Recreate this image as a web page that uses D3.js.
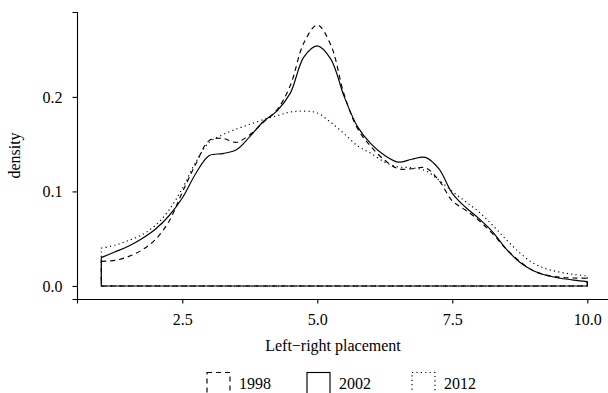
<!DOCTYPE html>
<html>
<head>
<meta charset="utf-8">
<script src="https://cdn.jsdelivr.net/npm/d3@7"></script>
<style>
  html, body { margin: 0; padding: 0; background: #fff; }
  svg { display: block; font-family: "Liberation Serif", "Times New Roman", serif; }
</style>
</head>
<body>
<svg id="chart" width="608" height="393"></svg>
<script>
// Evaluation grid for the density estimates (left–right placement scale)
const placement = [1.00, 1.25, 1.50, 1.75, 2.00, 2.25, 2.50, 2.75, 3.00, 3.25, 3.50, 3.75,
                   4.00, 4.25, 4.50, 4.75, 5.00, 5.25, 5.50, 5.75, 6.00, 6.25, 6.50, 6.75,
                   7.00, 7.25, 7.50, 7.75, 8.00, 8.25, 8.50, 8.75, 9.00, 9.25, 9.50, 9.75, 10.00];

const density1998 = [0.026, 0.027, 0.031, 0.038, 0.049, 0.068, 0.099, 0.129, 0.154, 0.156, 0.152, 0.160,
                     0.173, 0.186, 0.212, 0.257, 0.276, 0.255, 0.202, 0.166, 0.147, 0.133, 0.124, 0.124,
                     0.125, 0.112, 0.090, 0.080, 0.069, 0.055, 0.039, 0.026, 0.0160, 0.0115, 0.0092, 0.0084, 0.0082];

const density2002 = [0.030, 0.036, 0.042, 0.050, 0.060, 0.074, 0.093, 0.119, 0.138, 0.140, 0.144, 0.158,
                     0.174, 0.185, 0.204, 0.242, 0.254, 0.240, 0.200, 0.168, 0.150, 0.138, 0.131, 0.134,
                     0.136, 0.124, 0.098, 0.083, 0.071, 0.057, 0.039, 0.025, 0.0160, 0.0110, 0.0082, 0.0062, 0.0046];

const density2012 = [0.040, 0.043, 0.048, 0.054, 0.064, 0.080, 0.103, 0.131, 0.152, 0.160, 0.166, 0.171,
                     0.176, 0.180, 0.184, 0.185, 0.183, 0.173, 0.161, 0.148, 0.140, 0.131, 0.126, 0.125,
                     0.122, 0.112, 0.100, 0.089, 0.078, 0.064, 0.049, 0.035, 0.024, 0.018, 0.0145, 0.0122, 0.0106];

const years = ["1998", "2002", "2012"];
const xTicks = [2.5, 5.0, 7.5, 10.0];
const yTicks = [0.0, 0.1, 0.2];

const seriesValues = [density1998, density2002, density2012];
const dashFor = { "1998": "5,4", "2002": null, "2012": "1.2,3.2" };

const svg = d3.select("#chart");

// Panel extent (panel continues past the right edge of the canvas)
const panel = { left: 77, top: 12, bottom: 299, right: 611.6 };

// Scales with 5% padding around the data range
const xMin = d3.min(placement), xMax = d3.max(placement);
const xPad = (xMax - xMin) * 0.05;
const x = d3.scaleLinear().domain([xMin - xPad, xMax + xPad]).range([panel.left, panel.right]);

const yMax = d3.max(seriesValues.flat());
const yPad = yMax * 0.05;
const y = d3.scaleLinear().domain([-yPad, yMax + yPad]).range([panel.bottom, panel.top]);

// Density outlines: closed polygons down to zero at both ends
const area = d3.area()
  .x(d => x(d.x))
  .y0(y(0))
  .y1(d => y(d.y))
  .curve(d3.curveCatmullRom.alpha(0.5));

const curves = svg.append("g");
years.forEach((yr, i) => {
  const pts = placement.map((p, j) => ({ x: p, y: seriesValues[i][j] }));
  curves.append("path")
    .datum(pts)
    .attr("d", area)
    .attr("fill", "none")
    .attr("stroke", "#000")
    .attr("stroke-width", 1.15)
    .attr("stroke-linejoin", "round")
    .attr("stroke-dasharray", dashFor[yr]);
});

// Axes
const xAxis = d3.axisBottom(x).tickValues(xTicks).tickFormat(d3.format(".1f")).tickSizeOuter(0).tickSize(4.5).tickPadding(10);
const yAxis = d3.axisLeft(y).tickValues(yTicks).tickFormat(d3.format(".1f")).tickSizeOuter(0).tickSize(4.5).tickPadding(10);

const gx = svg.append("g").attr("transform", `translate(0,${panel.bottom})`).call(xAxis);
const gy = svg.append("g").attr("transform", `translate(${panel.left},0)`).call(yAxis);

[gx, gy].forEach(g => {
  g.select(".domain").attr("stroke", "#000").attr("stroke-width", 1.1);
  g.selectAll(".tick line").attr("stroke", "#000").attr("stroke-width", 1.1);
  g.selectAll(".tick text").attr("fill", "#000").attr("font-size", 16)
    .attr("font-family", "Liberation Serif, Times New Roman, serif");
});
gx.selectAll(".tick text").attr("dy", "0.71em");

// Axis titles
svg.append("text")
  .attr("x", 333).attr("y", 351)
  .attr("text-anchor", "middle")
  .attr("font-size", 16)
  .text("Left\u2212right placement");

svg.append("text")
  .attr("transform", `translate(20,${(panel.top + panel.bottom) / 2}) rotate(-90)`)
  .attr("text-anchor", "middle")
  .attr("font-size", 16)
  .text("density");

// Legend
const legendX = [207, 307, 412];
const legend = svg.append("g");
years.forEach((yr, i) => {
  const g = legend.append("g").attr("transform", `translate(${legendX[i]},372.5)`);
  g.append("rect")
    .attr("width", 23).attr("height", 23)
    .attr("fill", "none")
    .attr("stroke", "#000")
    .attr("stroke-width", 1.15)
    .attr("stroke-dasharray", dashFor[yr]);
  g.append("text")
    .attr("x", 32).attr("y", 16)
    .attr("font-size", 16)
    .text(yr);
});
</script>
</body>
</html>
